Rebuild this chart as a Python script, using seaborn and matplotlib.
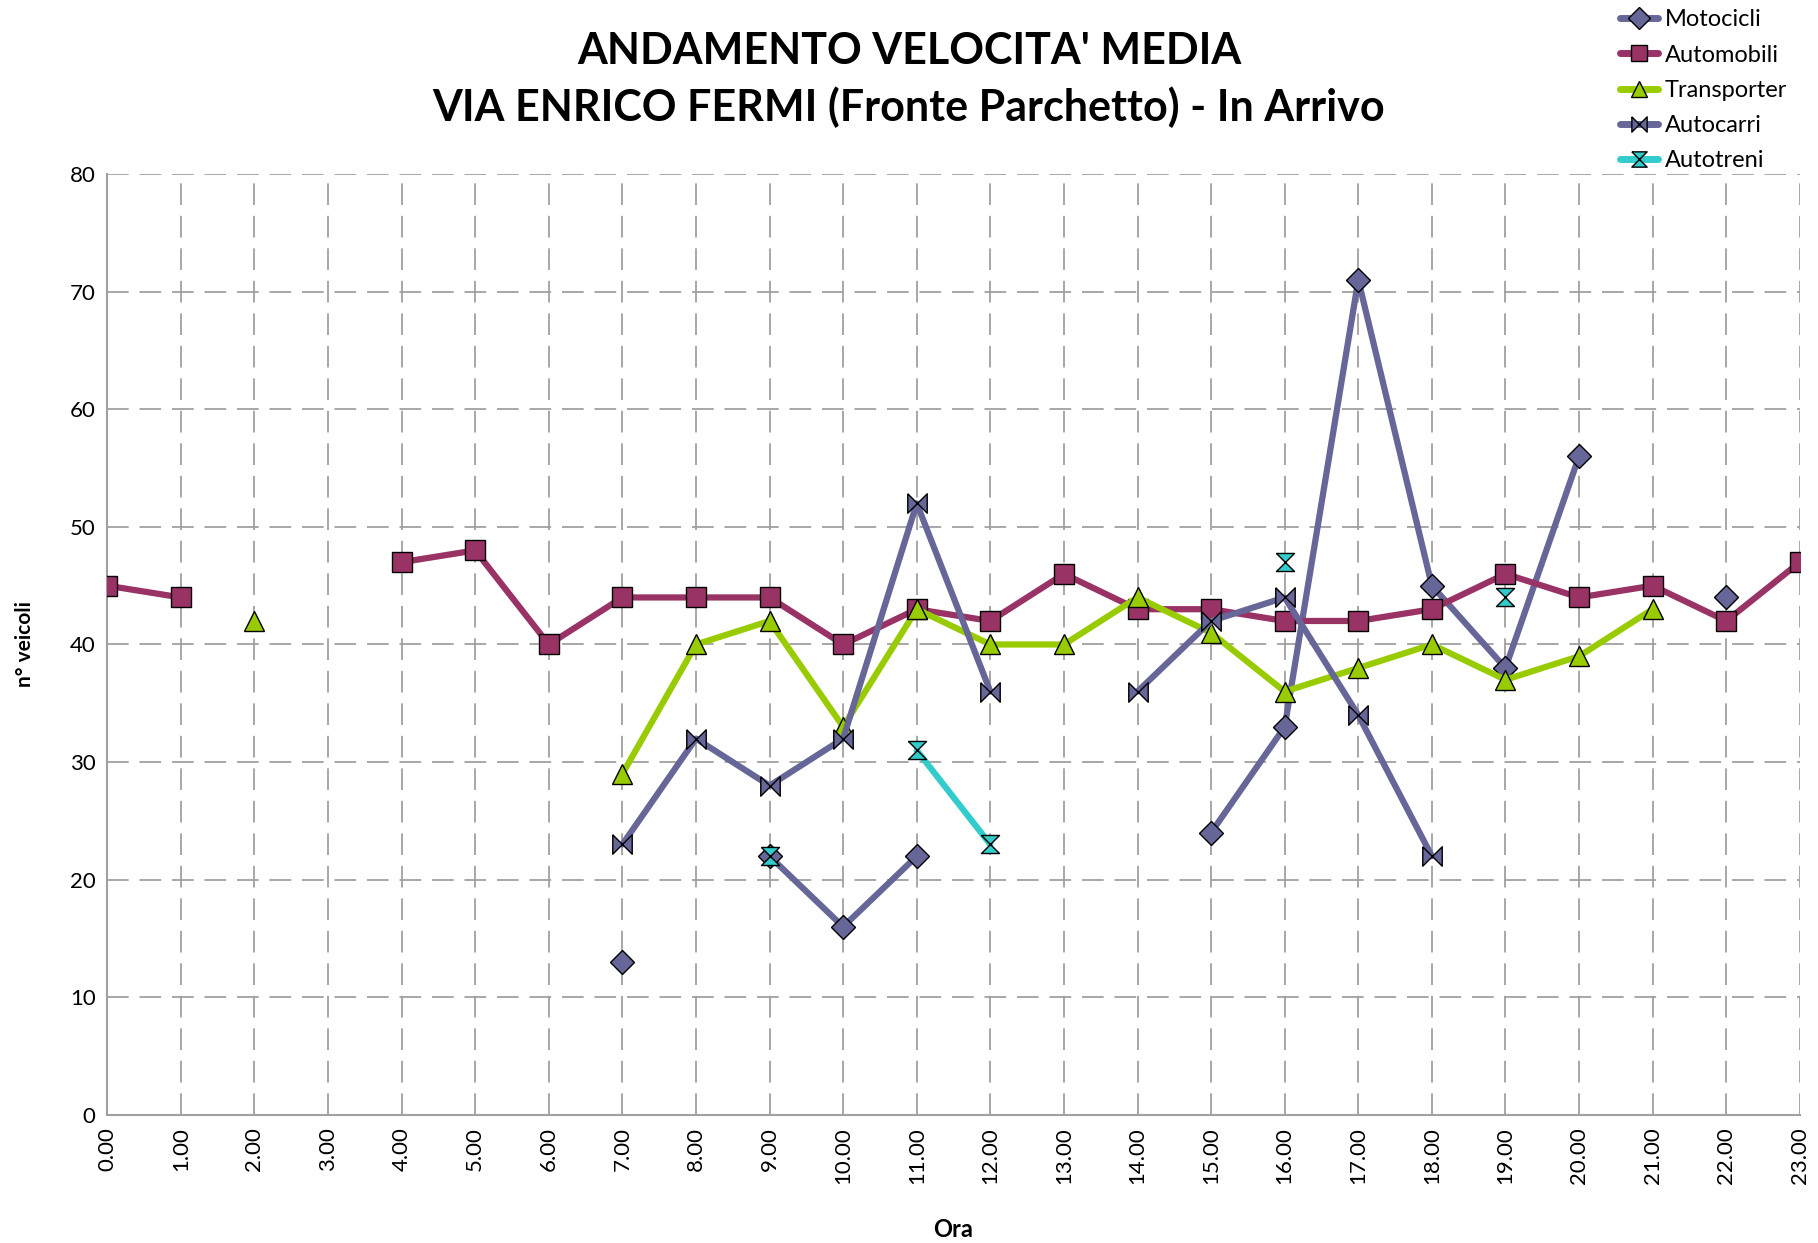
import numpy as np
import pandas as pd
import matplotlib
matplotlib.use("Agg")
import matplotlib.pyplot as plt
from matplotlib.lines import Line2D
import seaborn as sns

nan = np.nan
ore = list(range(24))
ore_label = [f"{h}.00" for h in ore]

motocicli = [nan, nan, nan, nan, nan, nan, nan, 13, nan, 22, 16, 22,
             nan, nan, nan, 24, 33, 71, 45, 38, 56, nan, 44, nan]
automobili = [45, 44, nan, nan, 47, 48, 40, 44, 44, 44, 40, 43,
              42, 46, 43, 43, 42, 42, 43, 46, 44, 45, 42, 47]
transporter = [nan, nan, 42, nan, nan, nan, nan, 29, 40, 42, 33, 43,
               40, 40, 44, 41, 36, 38, 40, 37, 39, 43, nan, nan]
autocarri = [nan, nan, nan, nan, nan, nan, nan, 23, 32, 28, 32, 52,
             36, nan, 36, 42, 44, 34, 22, nan, nan, nan, nan, nan]
autotreni = [nan, nan, nan, nan, nan, nan, nan, nan, nan, 22, nan, 31,
             23, nan, nan, nan, 47, nan, nan, 44, nan, nan, nan, nan]

bowtie = [(-1, 1), (-1, -1), (1, 1), (1, -1), (-1, 1)]
hourglass = [(-1, 1), (1, 1), (-1, -1), (1, -1), (-1, 1)]

serie = [
    ("Motocicli", motocicli, "#666699", "D", 12),
    ("Automobili", automobili, "#993366", "s", 14),
    ("Transporter", transporter, "#99CC00", "^", 14),
    ("Autocarri", autocarri, "#666699", bowtie, 14),
    ("Autotreni", autotreni, "#33CCCC", hourglass, 13),
]

sns.set_style("white")
plt.rcParams["font.family"] = ["Lato", "DejaVu Sans"]
plt.rcParams["text.color"] = "black"
plt.rcParams["axes.labelcolor"] = "black"
plt.rcParams["xtick.color"] = "black"
plt.rcParams["ytick.color"] = "black"

fig, ax = plt.subplots(figsize=(18.18, 12.43), dpi=100)
fig.subplots_adjust(left=0.059, right=0.99, top=0.86, bottom=0.103)

handles = []
for nome, vals, col, mk, ms in serie:
    df = pd.DataFrame({"ora": ore, "val": vals})
    df["seg"] = df["val"].isna().cumsum()
    df = df.dropna()
    sns.lineplot(data=df, x="ora", y="val", units="seg", estimator=None,
                 color=col, lw=4.5, marker=mk, markersize=ms,
                 markeredgecolor="black", markeredgewidth=1.0,
                 markerfacecolor=col, ax=ax, legend=False, zorder=3)
    handles.append(Line2D([0], [0], color=col, lw=5, marker=mk, markersize=11,
                          markeredgecolor="black", markeredgewidth=1.0,
                          markerfacecolor=col, label=nome))

ax.set_xlim(0, 23)
ax.set_ylim(0, 80)
ax.set_xticks(ore)
ax.set_xticklabels(ore_label, rotation=90)
ax.set_yticks(range(0, 81, 10))
ax.tick_params(axis="both", labelsize=16, length=5, color="#999999")
ax.grid(True, color="#a0a0a0", linestyle=(0, (12, 6)), lw=1.3)
for s in ["top", "right"]:
    ax.spines[s].set_visible(False)
for s in ["left", "bottom"]:
    ax.spines[s].set_color("#a0a0a0")
    ax.spines[s].set_linewidth(1.5)

ax.set_xlabel("Ora", fontsize=17, fontweight="bold", labelpad=25)
ax.set_ylabel("n° veicoli", fontsize=15, fontweight="bold", labelpad=25)

fig.suptitle("ANDAMENTO VELOCITA' MEDIA\nVIA ENRICO FERMI (Fronte Parchetto) - In Arrivo",
             fontsize=31, fontweight="bold", x=0.5, y=0.975, linespacing=1.45,
             color="black")

fig.legend(handles=handles, loc="upper left", bbox_to_anchor=(0.886, 1.0),
           frameon=False, fontsize=17, handlelength=1.6, handletextpad=0.3,
           labelspacing=0.6, borderaxespad=0)

plt.savefig("out.png", dpi=100)
